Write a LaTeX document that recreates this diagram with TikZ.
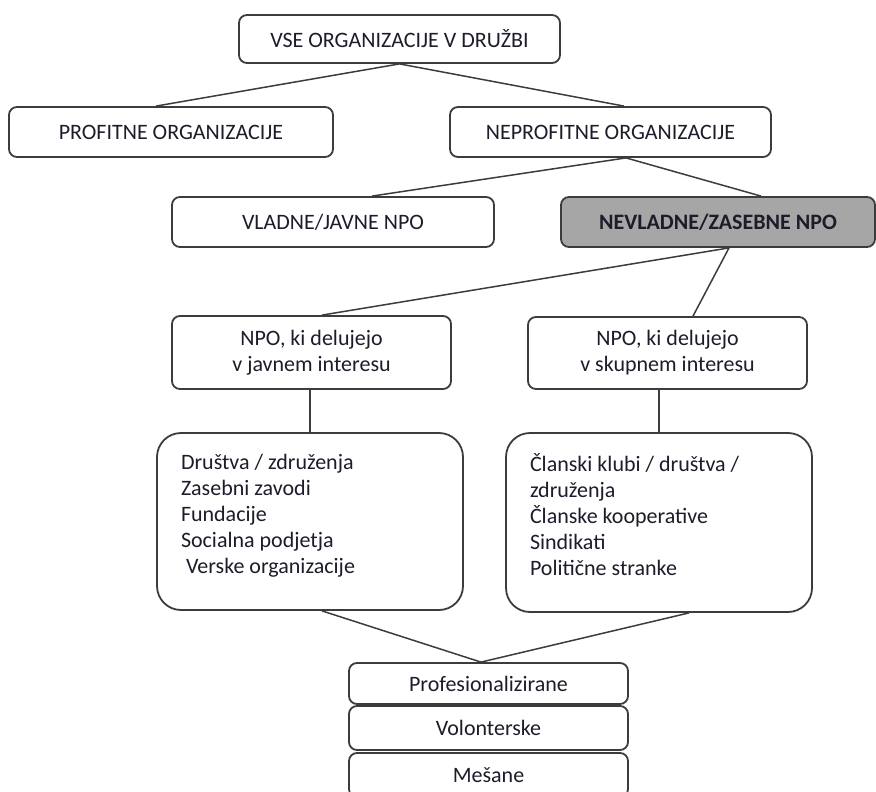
\documentclass[tikz,border=0pt]{standalone}
\usepackage{fontspec}
\setmainfont{Carlito}
\usepackage{tikz}
\definecolor{edge}{HTML}{3C3C3C}
\definecolor{shade}{HTML}{A6A6A6}
\definecolor{ink}{HTML}{1C1C2A}

\begin{document}
\begin{tikzpicture}[x=1pt,y=-1pt,font=\fontsize{22}{26}\selectfont,
  org/.style={draw=edge,line width=1.8pt,rounded corners=8pt,text=ink,inner sep=2pt,
              align=center},
  npo/.style={org,fill=shade,font=\fontsize{22}{26}\selectfont\bfseries},
  lst/.style={org,rounded corners=24pt,align=flush left,text width=258pt,inner xsep=24pt,
              minimum height=177pt},
  kind/.style={org,minimum width=279pt,minimum height=43pt},
  link/.style={edge,line width=1.5pt}]
  \useasboundingbox (0,0) rectangle (876,792);
  \node[org,minimum width=321pt,minimum height=48pt] (all) at (399.5,39) {VSE ORGANIZACIJE V DRUŽBI};
  \node[org,minimum width=324pt,minimum height=50pt] (prof) at (171,132) {PROFITNE ORGANIZACIJE};
  \node[org,minimum width=321pt,minimum height=50pt] (nprof) at (610.5,132) {NEPROFITNE ORGANIZACIJE};
  \node[org,minimum width=322pt,minimum height=50pt] (vlad) at (333,222) {VLADNE/JAVNE NPO};
  \node[npo,minimum width=314pt,minimum height=50pt] (nevlad) at (718,222) {NEVLADNE/ZASEBNE NPO};
  \node[org,minimum width=279pt,minimum height=73pt] (javni) at (311.5,352.5)
    {NPO, ki delujejo\\v javnem interesu};
  \node[org,minimum width=279pt,minimum height=72pt] (skupni) at (667.5,353)
    {NPO, ki delujejo\\v skupnem interesu};
  \node[lst] (javlist) at (310,521.5)
    {Društva / združenja\\Zasebni zavodi\\Fundacije\\Socialna podjetja\\
     \hspace*{5pt}Verske organizacije\\[-10pt]\mbox{}};
  \node[lst,minimum height=179pt] (skuplist) at (659,522.5)
    {Članski klubi / društva /\\združenja\\Članske kooperative\\Sindikati\\
     Politične stranke\\[-10pt]\mbox{}};
  \node[kind,minimum height=41pt] (pro) at (488.5,683.5) {Profesionalizirane};
  \node[kind,minimum height=44pt] (vol) at (488.5,728) {Volonterske};
  \node[kind,minimum height=44pt] (mes) at (488.5,775) {Mešane};
  \draw[link] (all.south) -- ([xshift=-15pt]prof.north);
  \draw[link] (all.south) -- ([xshift=13.5pt]nprof.north);
  \draw[link] ([xshift=15.5pt]nprof.south) -- ([xshift=39pt]vlad.north);
  \draw[link] ([xshift=15.5pt]nprof.south) -- ([xshift=43pt]nevlad.north);
  \draw[link] ([xshift=11pt]nevlad.south) -- ([xshift=10.5pt]javni.north);
  \draw[link] ([xshift=11pt]nevlad.south) -- ([xshift=25.5pt]skupni.north);
  \draw[link] (javlist.north) -- (javlist.north |- javni.south);
  \draw[link] (skuplist.north) -- (skuplist.north |- skupni.south);
  \draw[link] ([xshift=12pt]javlist.south) -- ([xshift=-7.5pt]pro.north);
  \draw[link] ([xshift=30pt]skuplist.south) -- ([xshift=-7.5pt]pro.north);
\end{tikzpicture}
\end{document}
